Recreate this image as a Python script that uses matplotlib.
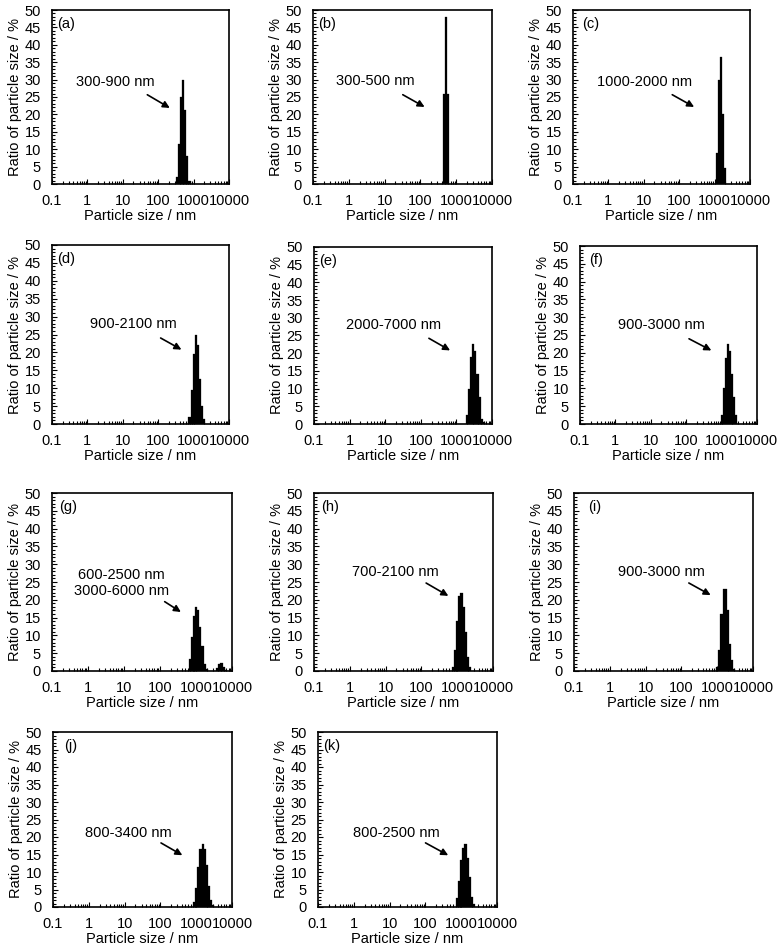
import matplotlib.pyplot as plt
from matplotlib.ticker import FixedLocator, NullFormatter, MultipleLocator
import numpy as np

plt.rcParams['font.family'] = ['Liberation Sans', 'DejaVu Sans']

W, H = 779, 951
FS = 10.5

# instrument size grid ratio (laser diffraction bins)
RATIO = 1.1455

# bin centers (nm) and ratios (%)
size_a = [339, 389, 445, 510, 584, 669, 766]
ratio_a = [1.9, 11.5, 25, 30, 21.3, 8, 0.8]

size_b = [445, 510, 584]
ratio_b = [26, 48, 26]

size_c = [1151, 1318, 1510, 1729, 1981]
ratio_c = [9, 30, 36.5, 20, 4.5]

size_d = [766, 877, 1005, 1151, 1318, 1510, 1729, 1981]
ratio_d = [2, 9.5, 19.5, 25, 22, 12.5, 5, 1.5]

size_e = [1981, 2269, 2599, 2976, 3409, 3905, 4472, 5122, 5867]
ratio_e = [2.5, 10, 19, 22.5, 20.5, 14, 7.5, 1.5, 0.5]

size_f = [1005, 1151, 1318, 1510, 1729, 1981, 2269, 2599]
ratio_f = [2.5, 10, 18.5, 22.5, 20.5, 14, 7.5, 2.5]

size_g = [669, 766, 877, 1005, 1151, 1318, 1510, 1729, 1981,
          3905, 4472, 5122, 5867, 6720]
ratio_g = [3.5, 9.5, 15.5, 18, 17, 12.5, 7, 2, 0.5,
           0.8, 2, 2.2, 1.2, 0.3]

size_h = [766, 877, 1005, 1151, 1318, 1510, 1729, 1981, 2269]
ratio_h = [1, 6, 14, 21, 22, 18, 11, 4, 1]

size_i = [1005, 1151, 1318, 1510, 1729, 1981, 2269, 2599, 2976]
ratio_i = [1, 6, 16, 23, 23, 17, 7.5, 3, 0.5]

size_j = [877, 1005, 1151, 1318, 1510, 1729, 1981, 2269, 2599, 2976]
ratio_j = [1.5, 5.5, 11.5, 16.5, 18, 16.5, 12, 6, 2, 0.5]

size_k = [766, 877, 1005, 1151, 1318, 1510, 1729, 1981, 2269]
ratio_k = [2.5, 7.5, 13.5, 17, 18, 14, 8.5, 3, 1]

letters = ['(a)', '(b)', '(c)', '(d)', '(e)', '(f)', '(g)', '(h)', '(i)', '(j)', '(k)']
ranges = ['300-900 nm', '300-500 nm', '1000-2000 nm', '900-2100 nm', '2000-7000 nm',
          '900-3000 nm', '600-2500 nm\n3000-6000 nm', '700-2100 nm', '900-3000 nm',
          '800-3400 nm', '800-2500 nm']
sizes = [size_a, size_b, size_c, size_d, size_e, size_f, size_g, size_h, size_i, size_j, size_k]
ratios = [ratio_a, ratio_b, ratio_c, ratio_d, ratio_e, ratio_f, ratio_g, ratio_h, ratio_i, ratio_j, ratio_k]

xticks = [0.1, 1, 10, 100, 1000, 10000]
xticklabels = ['0.1', '1', '10', '100', '1000', '10000']

# axes boxes in pixels: left, right, top, bottom
boxes = [(52, 229, 10, 184), (313, 492, 10, 184), (573, 750, 10, 184),
         (52, 229, 245, 424), (314, 492, 247, 424), (580, 757, 246, 424),
         (52, 232, 493, 671), (314, 493, 493, 671), (574, 753, 493, 671),
         (53, 232, 732, 907), (318, 497, 732, 907)]

# annotation layout in axes fraction: text xy, arrow tail, arrow head
ann = [((0.356, 0.588), (0.525, 0.521), (0.679, 0.429)),
       ((0.348, 0.590), (0.488, 0.521), (0.637, 0.435)),
       ((0.406, 0.588), (0.547, 0.521), (0.698, 0.435)),
       ((0.460, 0.557), (0.600, 0.488), (0.745, 0.408)),
       ((0.445, 0.562), (0.632, 0.492), (0.778, 0.408)),
       ((0.461, 0.555), (0.602, 0.486), (0.756, 0.406)),
       ((0.387, 0.496), (0.613, 0.398), (0.729, 0.323)),
       ((0.452, 0.556), (0.613, 0.502), (0.764, 0.414)),
       ((0.489, 0.556), (0.628, 0.502), (0.777, 0.419)),
       ((0.423, 0.421), (0.590, 0.374), (0.736, 0.288)),
       ((0.438, 0.421), (0.587, 0.374), (0.741, 0.288))]
letter_x = [0.03, 0.03, 0.05, 0.03, 0.03, 0.05, 0.04, 0.04, 0.08, 0.06, 0.03]

fig = plt.figure(figsize=(W / 100, H / 100), dpi=100)

for n in range(11):
    l, r, t, b = boxes[n]
    ax = fig.add_axes([l / W, 1 - b / H, (r - l) / W, (b - t) / H])
    c = np.array(sizes[n], dtype=float)
    left = c / RATIO ** 0.5
    right = c * RATIO ** 0.5
    ax.bar(left, ratios[n], width=right - left, align='edge', color='black',
           edgecolor='black', linewidth=0.2)
    ax.set_xscale('log')
    ax.set_xlim(0.1, 10000)
    ax.set_ylim(0, 50)
    ax.xaxis.set_major_locator(FixedLocator(xticks))
    ax.set_xticklabels(xticklabels)
    ax.xaxis.set_minor_locator(FixedLocator([m * d for d in [0.1, 1, 10, 100, 1000] for m in range(2, 10)]))
    ax.xaxis.set_minor_formatter(NullFormatter())
    ax.yaxis.set_major_locator(MultipleLocator(5))
    ax.yaxis.set_minor_locator(MultipleLocator(1))
    ax.tick_params(which='both', direction='in', labelsize=FS, width=0.8)
    ax.tick_params(which='major', length=3.5)
    ax.tick_params(which='minor', length=2)
    ax.tick_params(axis='x', which='major', pad=7)
    ax.tick_params(axis='y', which='major', pad=8)
    for s in ax.spines.values():
        s.set_linewidth(1.2)
    ax.set_xlabel('Particle size / nm', fontsize=FS, labelpad=1)
    ax.set_ylabel('Ratio of particle size / %', fontsize=FS, labelpad=2)
    ax.text(letter_x[n], 0.92, letters[n], transform=ax.transAxes, fontsize=FS,
            ha='left', va='center')
    txy, tail, head = ann[n]
    ax.text(txy[0], txy[1], ranges[n], transform=ax.transAxes, fontsize=FS,
            ha='center', va='center', linespacing=1.2)
    ax.annotate('', xy=head, xycoords='axes fraction', xytext=tail, textcoords='axes fraction',
                arrowprops=dict(arrowstyle='-|>', color='black', lw=1.2, mutation_scale=10))

fig.savefig('out.png', dpi=100)
